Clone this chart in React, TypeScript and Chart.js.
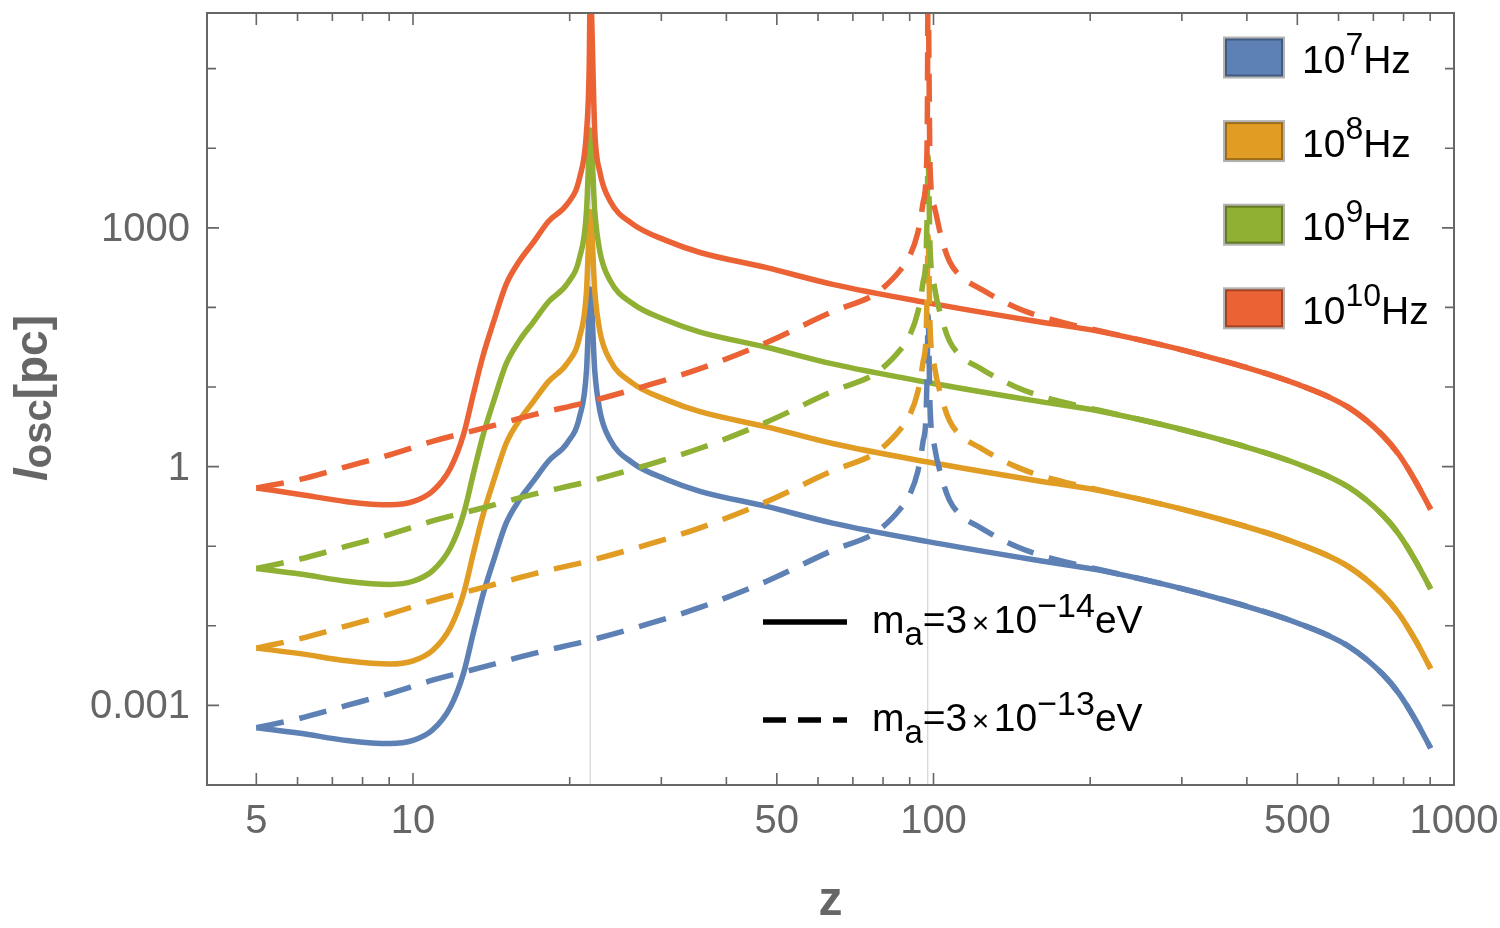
import { useEffect, useRef } from "react";
import { Chart, registerables } from "chart.js";

Chart.register(...registerables);

// redshift samples for the m_a = 3e-14 eV curves (solid)
const zSolid = [
  5, 6.07, 7.46, 9.03, 10, 10.9, 11.8, 12.5, 13.06, 13.6, 14.3, 15.1, 16.0, 17.0, 18.2, 19.8, 20.9,
  21.54, 21.8, 21.9, 22.35, 22.86, 23.9, 26.4, 30.7, 35.6, 47.8, 64, 97, 155, 208, 324, 503, 628,
  728, 784, 844, 902,
];
const solid7 = [
  5.25e-4, 4.47e-4, 3.63e-4, 3.31e-4, 3.63e-4, 4.9e-4, 9.55e-4, 2.51e-3, 8.13e-3, 2.34e-2, 6.76e-2,
  0.195, 0.38, 0.646, 1.17, 2.0, 4.27, 15.8, 100, 170, 15.8, 5.0, 2.19, 1.12, 0.69, 0.49, 0.316,
  0.195, 0.115, 0.068, 0.05, 0.0257, 0.0107, 5.5e-3, 2.5e-3, 1.41e-3, 6.5e-4, 2.9e-4,
];
const solid8 = [
  5.25e-3, 4.47e-3, 3.63e-3, 3.31e-3, 3.63e-3, 4.9e-3, 9.55e-3, 2.51e-2, 8.13e-2, 0.234, 0.676,
  1.95, 3.8, 6.46, 11.7, 20, 42.7, 158, 1000, 1600, 158, 50, 21.9, 11.2, 6.9, 4.9, 3.16, 1.95, 1.15,
  0.68, 0.5, 0.257, 0.107, 0.055, 0.025, 0.0141, 6.5e-3, 2.9e-3,
];
const solid9 = [
  5.25e-2, 4.47e-2, 3.63e-2, 3.31e-2, 3.63e-2, 4.9e-2, 9.55e-2, 0.251, 0.813, 2.34, 6.76, 19.5, 38,
  64.6, 117, 200, 427, 1580, 1.0e4, 1.7e4, 1580, 500, 219, 112, 69, 49, 31.6, 19.5, 11.5, 6.8, 5.0,
  2.57, 1.07, 0.55, 0.25, 0.141, 0.065, 0.029,
];
const solid10 = [
  0.54, 0.447, 0.363, 0.331, 0.363, 0.49, 0.955, 2.51, 8.13, 23.4, 67.6, 195, 380, 646, 1200, 2000,
  4270, 1.58e4, 1.0e5, 1.0e6, 1.58e4, 5000, 2190, 1120, 690, 490, 316, 195, 115, 68, 50, 25.7, 10.7,
  5.5, 2.5, 1.41, 0.65, 0.29,
];

// redshift samples for the m_a = 3e-13 eV curves (dashed)
const zDashed = [
  5, 6.07, 7.46, 9.03, 10.94, 13.6, 17.0, 21.9, 28.5, 35.6, 47.8, 64.1, 76.5, 79.9, 86.1, 89.9, 93.3,
  95.4, 96.8, 97.3, 97.6, 98.5, 100.4, 103.5, 107.3, 113.8, 122.6, 131.9, 144, 155, 180, 208, 324,
  503, 628, 728, 784, 844, 902,
];
const dashed7 = [
  5.25e-4, 6.9e-4, 1.0e-3, 1.41e-3, 2.09e-3, 3.02e-3, 4.47e-3, 6.6e-3, 1.07e-2, 1.7e-2, 3.63e-2,
  8.9e-2, 0.141, 0.174, 0.288, 0.437, 0.87, 2.0, 4.79, 20.4, 79, 5.6, 1.82, 0.76, 0.38, 0.234, 0.174,
  0.132, 0.1, 0.083, 0.063, 0.051, 0.0257, 0.0107, 5.5e-3, 2.5e-3, 1.41e-3, 6.5e-4, 2.9e-4,
];
const dashed8 = [
  5.25e-3, 6.9e-3, 1.0e-2, 1.41e-2, 2.09e-2, 3.02e-2, 4.47e-2, 6.6e-2, 0.107, 0.17, 0.363, 0.89,
  1.41, 1.74, 2.88, 4.37, 8.7, 20, 47.9, 204, 794, 56, 18.2, 7.6, 3.8, 2.34, 1.74, 1.32, 1.0, 0.83,
  0.63, 0.51, 0.257, 0.107, 0.055, 0.025, 0.0141, 6.5e-3, 2.9e-3,
];
const dashed9 = [
  5.25e-2, 6.9e-2, 0.1, 0.141, 0.209, 0.302, 0.447, 0.66, 1.07, 1.7, 3.63, 8.9, 14.1, 17.4, 28.8,
  43.7, 87, 200, 479, 2040, 7940, 560, 182, 76, 38, 23.4, 17.4, 13.2, 10, 8.3, 6.3, 5.1, 2.57, 1.07,
  0.55, 0.25, 0.141, 0.065, 0.029,
];
const dashed10 = [
  0.54, 0.69, 1.0, 1.41, 2.09, 3.02, 4.47, 6.6, 10.7, 17, 36.3, 89, 141, 174, 288, 437, 870, 2000,
  4790, 2.04e4, 1.0e6, 5600, 1820, 760, 380, 234, 174, 132, 100, 83, 63, 51, 25.7, 10.7, 5.5, 2.5,
  1.41, 0.65, 0.29,
];

// the two resonance redshifts (thin grey lines)
const poles = [21.9, 97.5];

const xMajorTicks = [5, 10, 50, 100, 500, 1000];
const xTickLabels = ["5", "10", "50", "100", "500", "1000"];
const xMinorTicks = [6, 7, 8, 9, 20, 30, 40, 60, 70, 80, 90, 200, 300, 400, 600, 700, 800, 900];
const yMajorTicks = [0.001, 1, 1000];
const yTickLabels = ["0.001", "1", "1000"];
const yMinorTicks = [0.01, 0.1, 10, 100, 1e4, 1e5];
const freqExponents = ["7", "8", "9", "10"];
const massExponents = ["\u221214", "\u221213"];

const X_MIN = 4.02;
const X_MAX = 1000;
const Y_MIN = 1e-4;
const Y_MAX = 5.0e5;

const COLORS = ["#5e81b5", "#e19c24", "#8fb032", "#eb6235"];
const EDGE_COLORS = ["#425a80", "#9e6d19", "#647b23", "#a54425"];
const AXIS = "#666666";
const FONT = "'Liberation Sans', Arial, sans-serif";

type Run = { t: string; size: number; dy?: number; weight?: string; style?: string; pad?: number };

function drawRuns(ctx: CanvasRenderingContext2D, runs: Run[], x: number, y: number) {
  let cx = x;
  for (const r of runs) {
    ctx.font = `${r.style ?? "normal"} ${r.weight ?? "normal"} ${r.size}px ${FONT}`;
    cx += r.pad ?? 0;
    ctx.fillText(r.t, cx, y + (r.dy ?? 0));
    cx += ctx.measureText(r.t).width + (r.pad ?? 0);
  }
  return cx - x;
}

function runsWidth(ctx: CanvasRenderingContext2D, runs: Run[]) {
  let w = 0;
  for (const r of runs) {
    ctx.font = `${r.style ?? "normal"} ${r.weight ?? "normal"} ${r.size}px ${FONT}`;
    w += ctx.measureText(r.t).width + 2 * (r.pad ?? 0);
  }
  return w;
}

const decorPlugin = {
  id: "decor",
  afterDatasetsDraw(chart: any) {
    const { ctx, chartArea: a, scales } = chart;
    const xs = scales.x;
    const ys = scales.y;
    ctx.save();

    // frame
    ctx.strokeStyle = AXIS;
    ctx.lineWidth = 2;
    ctx.strokeRect(a.left, a.top, a.right - a.left, a.bottom - a.top);

    // inward ticks on all four sides
    ctx.lineWidth = 1.6;
    ctx.beginPath();
    const xt = (v: number, len: number) => {
      const px = xs.getPixelForValue(v);
      ctx.moveTo(px, a.bottom);
      ctx.lineTo(px, a.bottom - len);
      ctx.moveTo(px, a.top);
      ctx.lineTo(px, a.top + len);
    };
    const yt = (v: number, len: number) => {
      const py = ys.getPixelForValue(v);
      ctx.moveTo(a.left, py);
      ctx.lineTo(a.left + len, py);
      ctx.moveTo(a.right, py);
      ctx.lineTo(a.right - len, py);
    };
    xMajorTicks.forEach((v) => xt(v, 12));
    xMinorTicks.forEach((v) => xt(v, 8));
    yMajorTicks.forEach((v) => yt(v, 12));
    yMinorTicks.forEach((v) => yt(v, 9));
    ctx.stroke();

    // tick labels
    ctx.fillStyle = AXIS;
    ctx.font = `40px ${FONT}`;
    ctx.textBaseline = "alphabetic";
    ctx.textAlign = "center";
    xMajorTicks.forEach((v, i) => {
      ctx.fillText(xTickLabels[i], xs.getPixelForValue(v), 833);
    });
    ctx.textAlign = "right";
    yMajorTicks.forEach((v, i) => {
      ctx.fillText(yTickLabels[i], 190, ys.getPixelForValue(v) + 13);
    });

    // axis titles
    ctx.textAlign = "center";
    ctx.font = `bold 48px ${FONT}`;
    ctx.fillText("z", (a.left + a.right) / 2, 915);

    ctx.textAlign = "left";
    const yTitle: Run[] = [
      { t: "l", size: 46, weight: "bold", style: "italic" },
      { t: "osc", size: 40, weight: "bold", dy: 4 },
      { t: "[pc]", size: 46, weight: "bold" },
    ];
    ctx.save();
    ctx.translate(47, 398);
    ctx.rotate(-Math.PI / 2);
    drawRuns(ctx, yTitle, -runsWidth(ctx, yTitle) / 2, 0);
    ctx.restore();

    // frequency legend
    freqExponents.forEach((e, i) => {
      const cy = 57.5 + i * 83.6;
      ctx.fillStyle = "#b4b4b4";
      ctx.fillRect(1223, cy - 21, 62, 42);
      ctx.fillStyle = EDGE_COLORS[i];
      ctx.fillRect(1225, cy - 19, 58, 38);
      ctx.fillStyle = COLORS[i];
      ctx.fillRect(1227, cy - 17, 54, 34);
      ctx.fillStyle = "#000";
      drawRuns(
        ctx,
        [
          { t: "10", size: 39 },
          { t: e, size: 32, dy: -18 },
          { t: "Hz", size: 39 },
        ],
        1302,
        cy + 15.5
      );
    });

    // mass legend
    ctx.strokeStyle = "#000";
    ctx.lineWidth = 5.5;
    massExponents.forEach((e, i) => {
      const ly = 622 + i * 98;
      ctx.setLineDash(i === 0 ? [] : [23, 12]);
      ctx.beginPath();
      ctx.moveTo(763, ly);
      ctx.lineTo(847, ly);
      ctx.stroke();
      ctx.setLineDash([]);
      ctx.fillStyle = "#000";
      drawRuns(
        ctx,
        [
          { t: "m", size: 39 },
          { t: "a", size: 33, dy: 12 },
          { t: "=3", size: 39 },
          { t: "\u00d7", size: 30, pad: 4.5 },
          { t: "10", size: 39 },
          { t: e, size: 34, dy: -16 },
          { t: "eV", size: 39 },
        ],
        872,
        ly + 11
      );
    });

    ctx.restore();
  },
};

export default function App() {
  const canvasRef = useRef<HTMLCanvasElement>(null);

  useEffect(() => {
    if (!canvasRef.current) return;
    document.body.style.margin = "0";

    const solids = [solid7, solid8, solid9, solid10];
    const dashes = [dashed7, dashed8, dashed9, dashed10];
    const datasets: any[] = [];

    for (let i = 3; i >= 0; i--) {
      datasets.push({
        data: zDashed.map((z, k) => ({ x: z, y: dashes[i][k] })),
        borderColor: COLORS[i],
        borderWidth: 5.5,
        borderDash: [28, 16],
        pointRadius: 0,
        fill: false,
        cubicInterpolationMode: "monotone",
      });
    }
    for (let i = 3; i >= 0; i--) {
      datasets.push({
        data: zSolid.map((z, k) => ({ x: z, y: solids[i][k] })),
        borderColor: COLORS[i],
        borderWidth: 5.5,
        pointRadius: 0,
        fill: false,
        borderJoinStyle: "round",
        cubicInterpolationMode: "monotone",
      });
    }
    poles.forEach((p) => {
      datasets.push({
        data: [
          { x: p, y: Y_MIN },
          { x: p, y: Y_MAX },
        ],
        borderColor: "#cccccc",
        borderWidth: 1,
        pointRadius: 0,
        order: 1,
      });
    });

    const chart = new Chart(canvasRef.current, {
      type: "line",
      data: { datasets },
      options: {
        animation: false,
        responsive: false,
        parsing: false,
        layout: { padding: { left: 0, top: 13, right: 46, bottom: 0 } },
        plugins: { legend: { display: false }, tooltip: { enabled: false } },
        scales: {
          x: {
            type: "logarithmic",
            min: X_MIN,
            max: X_MAX,
            ticks: { display: false },
            grid: { display: false },
            border: { display: false },
            afterFit: (s: any) => {
              s.height = 143;
            },
          },
          y: {
            type: "logarithmic",
            min: Y_MIN,
            max: Y_MAX,
            ticks: { display: false },
            grid: { display: false },
            border: { display: false },
            afterFit: (s: any) => {
              s.width = 207;
            },
          },
        },
      } as any,
      plugins: [decorPlugin],
    });

    return () => {
      chart.destroy();
    };
  }, []);

  return (
    <div style={{ width: 1500, height: 928, background: "#fff" }}>
      <canvas ref={canvasRef} width={1500} height={928} style={{ display: "block" }} />
    </div>
  );
}
